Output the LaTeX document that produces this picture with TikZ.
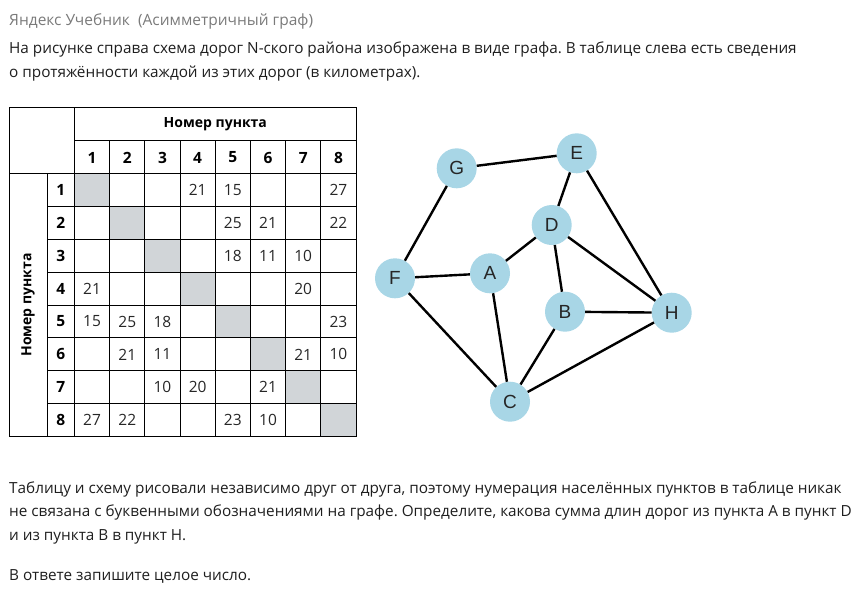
\documentclass[tikz,border=0pt]{standalone}
\usepackage{fontspec}
\setmainfont{Open Sans}
\newfontfamily\tabfont{Open Sans}
\newfontfamily\graphfont{Liberation Sans}
\frenchspacing
\definecolor{nodeblue}{HTML}{A8D6E6}
\definecolor{diaggray}{HTML}{D1D5D8}
\definecolor{maintext}{HTML}{1E1E1E}
\definecolor{titlegray}{HTML}{7A7A7A}
\tikzset{
  para/.style={anchor=base west, inner sep=0pt, text=maintext,
    font=\fontsize{15.3}{18}\selectfont},
  title/.style={anchor=base west, inner sep=0pt, text=titlegray,
    font=\fontsize{15.5}{18}\selectfont},
  grid/.style={line width=1pt, black},
  diagcell/.style={fill=diaggray},
  headnum/.style={inner sep=0pt, font=\tabfont\bfseries\fontsize{15.5}{15.5}\selectfont},
  valnum/.style={inner sep=0pt, font=\tabfont\fontsize{15.5}{15.5}\selectfont, text=black!85},
  headlabel/.style={inner sep=0pt, font=\tabfont\bfseries\fontsize{14}{14}\selectfont},
  vert/.style={circle, fill=nodeblue, minimum size=40pt, inner sep=0pt,
    font=\graphfont\fontsize{19}{19}\selectfont, text=black!85},
  road/.style={line width=2.4pt, black}
}
\begin{document}
\begin{tikzpicture}[x=1pt,y=-1pt]
\useasboundingbox (0,0) rectangle (854,590);

% heading and statement
\node[title] (ttl) at (9,25) {Яндекс Учебник\ \ (Асимметричный граф)};
\node[para] (p1) at (9,53.3) {На рисунке справа схема дорог N-ского района изображена в виде графа. В таблице слева есть сведения};
\node[para] (p2) at (9,77) {о протяжённости каждой из этих дорог (в километрах).};

% distance table: diagonal cells
\foreach \i in {1,...,8}
  \fill[diagcell] ({74.5+35.19*(\i-1)},{173.3+32.925*(\i-1)}) rectangle ++(35.19,32.925);

% distance table: grid
\draw[grid] (9,107.3) rectangle (356,436.7);
\draw[grid] (74.5,107.3) -- (74.5,436.7);
\draw[grid] (47,173.3) -- (47,436.7);
\draw[grid] (74.5,140) -- (356,140);
\draw[grid] (9,173.3) -- (356,173.3);
\foreach \j in {2,...,8}
  \draw[grid] ({74.5+35.19*(\j-1)},140) -- ({74.5+35.19*(\j-1)},436.7);
\foreach \i in {2,...,8}
  \draw[grid] (47,{173.3+32.925*(\i-1)}) -- (356,{173.3+32.925*(\i-1)});

% table headings
\node[headlabel] (colhead) at (215.3,124) {Номер пункта};
\node[headlabel, rotate=90] (rowhead) at (28,305) {Номер пункта};
\foreach \j in {1,...,8} {
  \node[headnum] (c\j) at ({74.5+35.19*(\j-0.5)},157.5) {\j};
  \node[headnum] (r\j) at (60.75,{173.3+32.925*(\j-0.5)}) {\j};
}

% table values: row/column/length
\foreach \i/\j/\v in {1/4/21,1/5/15,1/8/27,
                      2/5/25,2/6/21,2/8/22,
                      3/5/18,3/6/11,3/7/10,
                      4/1/21,4/7/20,
                      5/1/15,5/2/25,5/3/18,5/8/23,
                      6/2/21,6/3/11,6/7/21,6/8/10,
                      7/3/10,7/4/20,7/6/21,
                      8/1/27,8/2/22,8/5/23,8/6/10}
  \node[valnum] (v\i-\j) at ({74.5+35.19*(\j-0.5)},{173.3+32.925*(\i-0.5)}) {\v};

% road graph
\node[vert] (G) at (456.7,168.3) {G};
\node[vert] (E) at (576.7,153.3) {E};
\node[vert] (D) at (551.7,225) {D};
\node[vert] (A) at (490,273.3) {A};
\node[vert] (F) at (395,278.3) {F};
\node[vert] (B) at (565,311.7) {B};
\node[vert] (H) at (671.7,312.7) {H};
\node[vert] (C) at (510,401.7) {C};
\foreach \u/\w in {G/E,G/F,E/D,E/H,D/A,D/B,D/H,F/A,F/C,A/C,B/H,B/C,C/H}
  \draw[road] (\u) -- (\w);

% closing text
\node[para] (q1) at (9,493) {Таблицу и схему рисовали независимо друг от друга, поэтому нумерация населённых пунктов в таблице никак};
\node[para] (q2) at (9,516.5) {не связана с буквенными обозначениями на графе. Определите, какова сумма длин дорог из пункта A в пункт D};
\node[para] (q3) at (9,540) {и из пункта B в пункт H.};
\node[para] (q4) at (9,580.5) {В ответе запишите целое число.};
\end{tikzpicture}
\end{document}
